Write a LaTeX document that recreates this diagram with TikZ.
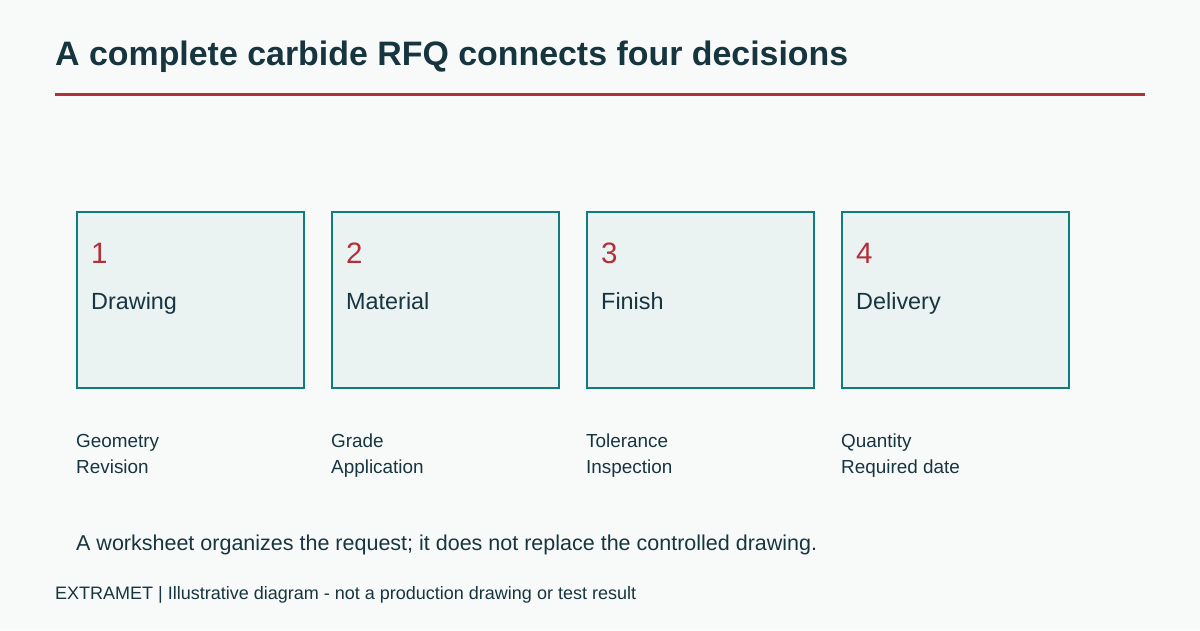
\documentclass[tikz,border=0pt]{standalone}
\usepackage{fontspec}
\setmainfont{Liberation Sans}
\usetikzlibrary{positioning}
\usepackage{xcolor}
\definecolor{rfqink}{RGB}{23, 53, 63}
\definecolor{rfqred}{RGB}{178, 48, 56}
\definecolor{rfqteal}{RGB}{16, 124, 125}
\definecolor{rfqfill}{RGB}{234, 242, 242}
\definecolor{rfqbg}{RGB}{248, 250, 250}
\tikzset{
  stepcard/.style={
    rectangle, draw=rfqteal, fill=rfqfill, line width=2pt,
    minimum width=227pt, minimum height=176pt, inner sep=0pt,
    outer sep=0pt, anchor=north west
  },
  numtxt/.style={
    anchor=base west, inner sep=0pt, text=rfqred,
    font=\fontsize{29.5}{34}\selectfont
  },
  steptxt/.style={
    anchor=base west, inner sep=0pt, text=rfqink,
    font=\fontsize{23.4}{28}\selectfont
  },
  detailtxt/.style={
    anchor=base west, inner sep=0pt, text=rfqink,
    font=\fontsize{18.9}{22}\selectfont
  },
  titletxt/.style={
    anchor=base west, inner sep=0pt, text=rfqink,
    font=\fontsize{33.9}{40}\selectfont\bfseries
  },
}

\begin{document}
\begin{tikzpicture}[x=1pt, y=1pt, node distance=28pt]
        \fill[rfqbg] (0,0) rectangle (1200,-630);
        \useasboundingbox (0,0) rectangle (1200,-630);
        % heading and rule
        \node[titletxt] (title) at (55,-65) {A complete carbide RFQ connects four decisions};
        \coordinate (ruleL) at (55,-94);
        \coordinate (ruleR) at (1145,-94);
        \draw[rfqred, line width=3pt] (ruleL)--(ruleR);
        % four decision cards
        \node[stepcard] (drawing) at (77,-212) {};
        \node[stepcard, right=of drawing] (material) {};
        \node[stepcard, right=of material] (finish) {};
        \node[stepcard, right=of finish] (delivery) {};
        \node[numtxt] (n1) at ([xshift=14pt,yshift=-51pt]drawing.north west) {1};
        \node[numtxt] (n2) at ([xshift=14pt,yshift=-51pt]material.north west) {2};
        \node[numtxt] (n3) at ([xshift=14pt,yshift=-51pt]finish.north west) {3};
        \node[numtxt] (n4) at ([xshift=14pt,yshift=-51pt]delivery.north west) {4};
        \node[steptxt] (t1) at ([xshift=14pt,yshift=-97pt]drawing.north west) {Drawing};
        \node[steptxt] (t2) at ([xshift=14pt,yshift=-97pt]material.north west) {Material};
        \node[steptxt] (t3) at ([xshift=14pt,yshift=-97pt]finish.north west) {Finish};
        \node[steptxt] (t4) at ([xshift=14pt,yshift=-97pt]delivery.north west) {Delivery};
        % what each card asks for
        \node[detailtxt] (geo) at ([xshift=-1pt,yshift=-59pt]drawing.south west) {Geometry};
        \node[detailtxt] (rev) at ([yshift=-26pt]geo.base west) {Revision};
        \node[detailtxt] (grd) at ([xshift=-1pt,yshift=-59pt]material.south west) {Grade};
        \node[detailtxt] (app) at ([yshift=-26pt]grd.base west) {Application};
        \node[detailtxt] (tol) at ([xshift=-1pt,yshift=-59pt]finish.south west) {Tolerance};
        \node[detailtxt] (ins) at ([yshift=-26pt]tol.base west) {Inspection};
        \node[detailtxt] (qty) at ([xshift=-1pt,yshift=-59pt]delivery.south west) {Quantity};
        \node[detailtxt] (req) at ([yshift=-26pt]qty.base west) {Required date};
        % notes
        \node[detailtxt, font=\fontsize{21.5}{26}\selectfont] (note) at (76,-550)
          {A worksheet organizes the request; it does not replace the controlled drawing.};
        \node[detailtxt, font=\fontsize{18}{22}\selectfont] (footer) at (55,-599)
          {EXTRAMET | Illustrative diagram - not a production drawing or test result};
      \end{tikzpicture}
\end{document}
